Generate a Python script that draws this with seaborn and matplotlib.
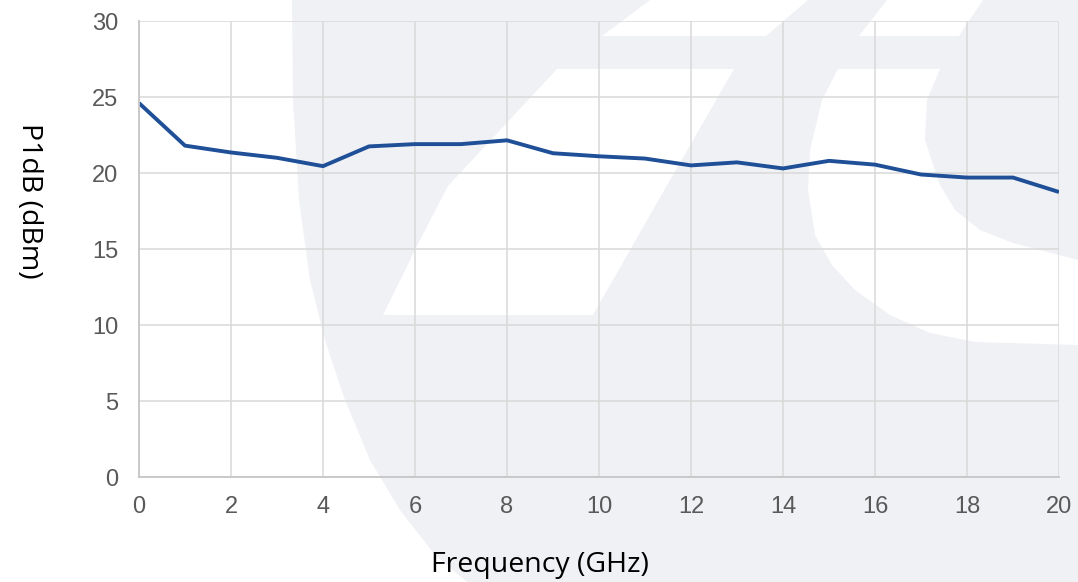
import matplotlib
matplotlib.use("Agg")
import matplotlib.pyplot as plt
import seaborn as sns
import pandas as pd

# P1dB vs frequency
freq_ghz = [0, 1, 2, 3, 4, 5, 6, 7, 8, 9, 10, 11, 12, 13, 14, 15, 16, 17, 18, 19, 20]
p1db_dbm = [24.6, 21.8, 21.35, 21.0, 20.45, 21.75, 21.9, 21.9, 22.15, 21.3, 21.1,
            20.95, 20.5, 20.7, 20.3, 20.8, 20.55, 19.9, 19.7, 19.7, 18.75]
x_ticks = [0, 2, 4, 6, 8, 10, 12, 14, 16, 18, 20]
y_ticks = [0, 5, 10, 15, 20, 25, 30]

df = pd.DataFrame({"freq": freq_ghz, "p1db": p1db_dbm})

sns.set_style("whitegrid")
plt.rcParams["font.family"] = ["Liberation Sans", "DejaVu Sans"]

W, H = 1078, 582
fig = plt.figure(figsize=(W / 100, H / 100), dpi=100)

# faint logo watermark behind the chart (pixel coords, top-left origin)
bg = fig.add_axes([0, 0, 1, 1], zorder=0)
bg.set_xlim(0, W)
bg.set_ylim(H, 0)
bg.axis("off")
wm = "#f0f1f5"
gray_shape = [(292, 0), (293, 100), (299, 200), (310, 280), (325, 340), (345, 400),
              (370, 460), (400, 510), (435, 555), (467, 582), (W, H), (W, 0)]
bg.fill(*zip(*gray_shape), color=wm, lw=0)
z_top = [(650, 0), (808, 0), (766, 36), (602, 36)]
c_top = [(887, 0), (983, 0), (959, 36), (859, 36)]
z_diag = [(557, 69), (734, 69), (654, 208), (593, 315), (383, 315), (420, 240), (448, 186)]
c_arc = [(838, 69), (822, 100), (810, 150), (808, 190), (815, 235), (832, 265),
         (855, 290), (890, 315), (930, 333), (975, 342), (W, 345),
         (W, 260), (1013, 243), (980, 230), (955, 210), (940, 185),
         (925, 140), (927, 100), (940, 69)]
for shape in (z_top, c_top, z_diag, c_arc):
    bg.fill(*zip(*shape), color="white", lw=0)

ax = fig.add_axes([139 / W, 1 - 477 / H, 920 / W, 456 / H], zorder=1)
ax.set_facecolor("none")

sns.lineplot(data=df, x="freq", y="p1db", ax=ax, color="#1f4f97", linewidth=2.8,
             solid_joinstyle="round", solid_capstyle="butt")

ax.set_xlim(0, 20)
ax.set_ylim(0, 30)
ax.set_xticks(x_ticks)
ax.set_yticks(y_ticks)
ax.grid(True, color="#d9d9d9", linewidth=1.1)
ax.tick_params(axis="both", length=0, labelsize=17, labelcolor="#595959")
ax.tick_params(axis="x", pad=14)
ax.tick_params(axis="y", pad=15)
for side in ("top", "right"):
    ax.spines[side].set_visible(False)
for side in ("left", "bottom"):
    ax.spines[side].set_color("#c6c6c6")
    ax.spines[side].set_linewidth(1.3)
ax.set_xlabel("")
ax.set_ylabel("")

fig.text(540 / W, 1 - 565 / H, "Frequency (GHz)", ha="center", va="center",
         fontsize=20.5, family=["Open Sans", "DejaVu Sans"], color="black")
fig.text(29 / W, 1 - 201 / H, "P1dB (dBm)", ha="center", va="center", rotation=270,
         fontsize=20.5, family=["Open Sans", "DejaVu Sans"], color="black")

fig.savefig("out.png", dpi=100)
plt.close(fig)
